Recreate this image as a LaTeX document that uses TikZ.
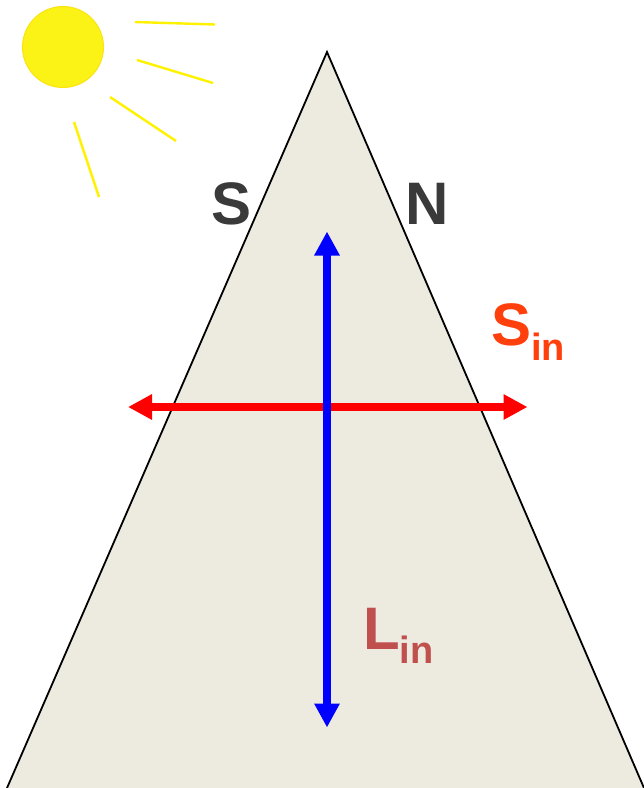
\documentclass[tikz,border=0pt]{standalone}
\usepackage{fontspec}
\setmainfont{Liberation Sans}
\usepackage{tikz}
\usetikzlibrary{arrows.meta,positioning}
\definecolor{rockbeige}{HTML}{EDEBE0}
\definecolor{sunyellow}{HTML}{FBF315}
\definecolor{raysyellow}{HTML}{FFF200}
\definecolor{facegray}{HTML}{3A3A3A}
\definecolor{sinorange}{HTML}{FF3F0C}
\definecolor{linred}{HTML}{C0504D}
\newcommand{\biglabel}[2]{{\fontsize{60}{60}\selectfont #1}\raisebox{-14.5pt}{\fontsize{38}{38}\selectfont #2}}

\begin{document}
\begin{tikzpicture}[
  x=1pt,y=-1pt,
  tag/.style={inner sep=0pt,anchor=base west,font=\bfseries},
  facetag/.style={tag,text=facegray,font=\bfseries\fontsize{60}{60}\selectfont},
  ray/.style={raysyellow,line width=2.4pt},
  arrow/.style={{Triangle[length=24pt,width=24pt]}-{Triangle[length=24pt,width=24pt]},line width=8pt}
]
\useasboundingbox (0,0) rectangle (644,788);
\coordinate (apex) at (327,52);
\coordinate (baseL) at (7,788);
\coordinate (baseR) at (644,788);
\fill[rockbeige] (apex) -- (baseR) -- (baseL) -- cycle;
\draw[black,line width=1.8pt] (baseL) -- (apex) -- (baseR);
\draw[black!25,line width=1pt] (baseL) -- (baseR);
\node[circle,fill=sunyellow,draw=sunyellow!85!orange,line width=1pt,minimum size=81pt,inner sep=0pt] (sun) at (63,47) {};
% sun rays
\draw[ray] (135,22) -- (215,24.5);
\draw[ray] (137,60) -- (213,83);
\draw[ray] (110,97) -- (176,141);
\draw[ray] (74,122) -- (99,197);
\node[facetag] (south) at (210.8,224) {S};
\node[facetag] (north) at (405.5,224) {N};
\coordinate (sinL) at (128,407);
\coordinate (sinR) at (527.5,407);
\coordinate (linT) at (327,231.5);
\coordinate (linB) at (327,727.5);
\draw[arrow,red] (sinL) -- (sinR);
\draw[arrow,blue] (linT) -- (linB);
\node[tag,text=sinorange] (sin) at (491,345.5) {\biglabel{S}{in}};
\node[tag,text=linred] (lin) at (363,649) {\biglabel{L}{in}};
\end{tikzpicture}
\end{document}
